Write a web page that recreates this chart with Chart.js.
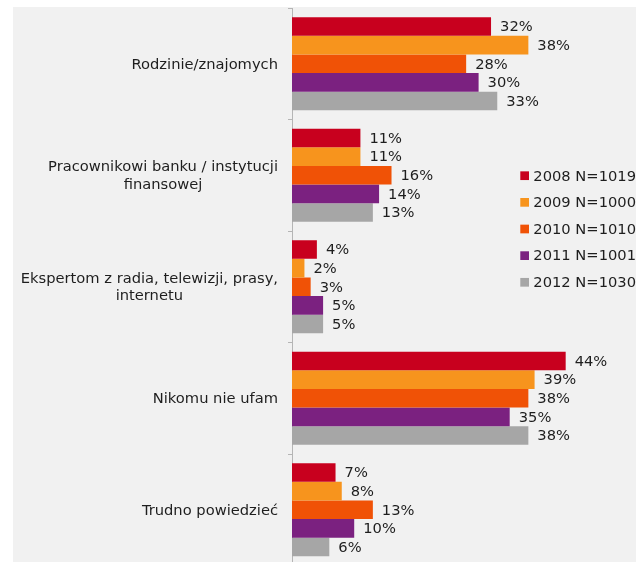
<!DOCTYPE html>
<html>
<head>
<meta charset="utf-8">
<script src="https://cdn.jsdelivr.net/npm/chart.js@4/dist/chart.umd.min.js"></script>
<style>
  html, body { margin: 0; padding: 0; background: #ffffff; overflow: hidden; width: 636px; height: 562px; }
  #panel { position: absolute; left: 13px; top: 7px; width: 623px; height: 555px; background: #f1f1f1; overflow: hidden; }
  #chart { display: block; }
</style>
</head>
<body>
<div id="panel"><canvas id="chart" width="623" height="562"></canvas></div>
<script>
// Answer categories (multi-line labels are arrays of lines)
const categories = [
  'Rodzinie/znajomych',
  ['Pracownikowi banku / instytucji', 'finansowej'],
  ['Ekspertom z radia, telewizji, prasy,', 'internetu'],
  'Nikomu nie ufam',
  'Trudno powiedzieć'
];

// Survey waves
const seriesLabels = ['2008 N=1019', '2009 N=1000', '2010 N=1010', '2011 N=1001', '2012 N=1030'];

// Share of answers, %
const values2008 = [32, 11, 4, 44, 7];
const values2009 = [38, 11, 2, 39, 8];
const values2010 = [28, 16, 3, 38, 13];
const values2011 = [30, 14, 5, 35, 10];
const values2012 = [33, 13, 5, 38, 6];

const seriesColors = ['#c8001e', '#f7941d', '#f05206', '#7b2180', '#a6a6a6'];

const FONT = '14.7px "DejaVu Sans", Verdana, sans-serif';
const TEXT_COLOR = '#1e1e1e';

const seriesValues = [values2008, values2009, values2010, values2011, values2012];

// Percentage labels to the right of each bar
const valueLabels = {
  id: 'valueLabels',
  afterDatasetsDraw(chart) {
    const ctx = chart.ctx;
    ctx.save();
    ctx.font = FONT;
    ctx.fillStyle = TEXT_COLOR;
    ctx.textAlign = 'left';
    ctx.textBaseline = 'middle';
    chart.data.datasets.forEach((ds, di) => {
      chart.getDatasetMeta(di).data.forEach((bar, i) => {
        ctx.fillText(ds.data[i] + '%', bar.x + 9, bar.y + 1);
      });
    });
    ctx.restore();
  }
};

// Category labels: block right-aligned to the axis, lines centred within the block
const categoryLabels = {
  id: 'categoryLabels',
  afterDraw(chart) {
    const ctx = chart.ctx;
    const y = chart.scales.y;
    const rightX = y.right - 14;
    const lineH = 17.3;
    ctx.save();
    ctx.font = FONT;
    ctx.fillStyle = TEXT_COLOR;
    ctx.textAlign = 'center';
    ctx.textBaseline = 'middle';
    categories.forEach((cat, i) => {
      const lines = Array.isArray(cat) ? cat : [cat];
      const w = Math.max(...lines.map(l => ctx.measureText(l).width));
      const cx = rightX - w / 2;
      const cy = y.getPixelForValue(i) + 1;
      const start = cy - (lines.length - 1) * lineH / 2;
      lines.forEach((l, k) => ctx.fillText(l, cx, start + k * lineH));
    });
    ctx.restore();
  }
};

// Legend drawn inside the plot area on the right
const sideLegend = {
  id: 'sideLegend',
  afterDraw(chart) {
    const ctx = chart.ctx;
    const x0 = 507.3, y0 = 168.7, step = 26.65, box = 8.7;
    ctx.save();
    ctx.font = FONT;
    ctx.textAlign = 'left';
    ctx.textBaseline = 'middle';
    chart.data.datasets.forEach((ds, i) => {
      const cy = y0 + i * step;
      ctx.fillStyle = ds.backgroundColor;
      ctx.fillRect(x0, cy - box / 2, box, box);
      ctx.fillStyle = TEXT_COLOR;
      ctx.fillText(ds.label, x0 + 13, cy + 1);
    });
    ctx.restore();
  }
};

new Chart(document.getElementById('chart'), {
  type: 'bar',
  data: {
    labels: categories,
    datasets: seriesLabels.map((label, i) => ({
      label: label,
      data: seriesValues[i],
      backgroundColor: seriesColors[i],
      borderWidth: 0,
      categoryPercentage: 0.834,
      barPercentage: 1.0
    }))
  },
  options: {
    indexAxis: 'y',
    responsive: false,
    animation: false,
    devicePixelRatio: 1,
    layout: { padding: { top: 1, right: 33, bottom: 3.5, left: 0 } },
    plugins: {
      legend: { display: false },
      tooltip: { enabled: false }
    },
    scales: {
      x: {
        display: false,
        min: 0,
        max: 50
      },
      y: {
        afterFit(scale) { scale.width = 279; },
        ticks: { display: false },
        grid: {
          display: true,
          offset: true,
          drawOnChartArea: false,
          drawTicks: true,
          tickLength: 4,
          color: '#b5b5b5'
        },
        border: { display: true, color: '#b5b5b5', width: 1 }
      }
    }
  },
  plugins: [valueLabels, categoryLabels, sideLegend]
});
</script>
</body>
</html>
